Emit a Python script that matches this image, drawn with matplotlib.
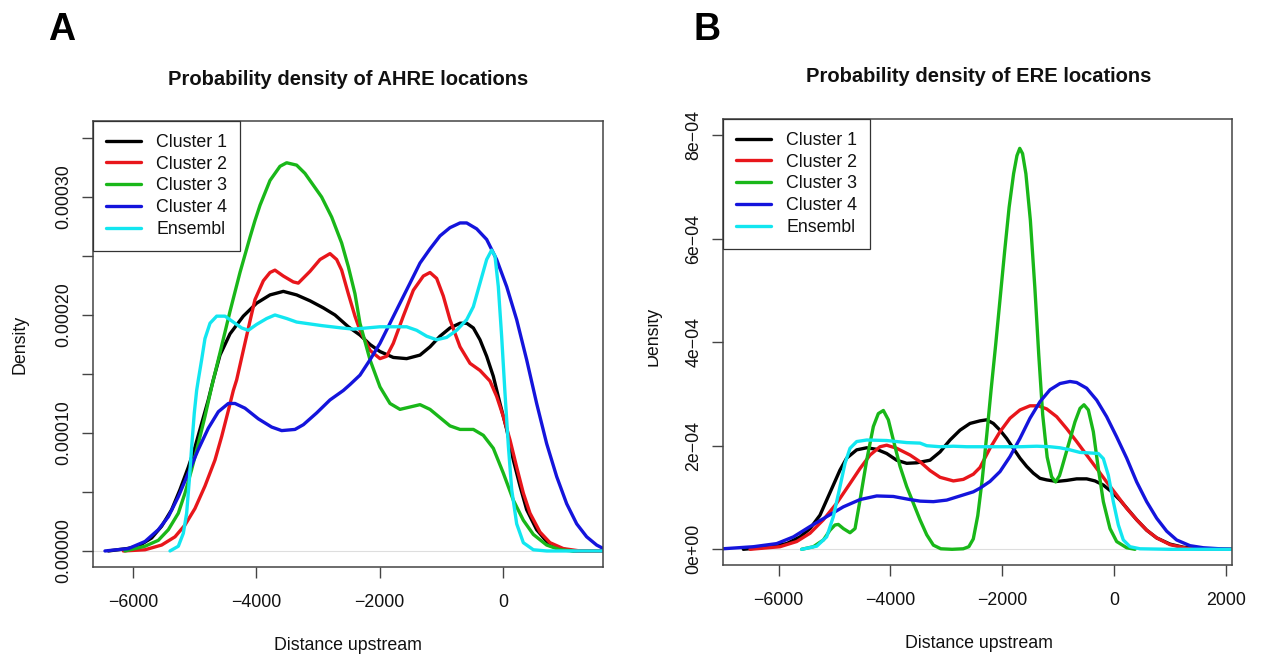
import numpy as np
import matplotlib
matplotlib.use('Agg')
import matplotlib.pyplot as plt
from matplotlib.transforms import Bbox, TransformedBbox, IdentityTransform

plt.rcParams['font.family'] = ['Liberation Sans', 'DejaVu Sans']

W, H = 1262, 656

series_labels = ['Cluster 1', 'Cluster 2', 'Cluster 3', 'Cluster 4', 'Ensembl']
series_colors = ['#000000', '#E8161B', '#19B719', '#1414DC', '#12E6F0']

# ---------------- Panel A : AHRE (density in units of 1e-4) ----------------
a_c1_x = [-6400, -6100, -5915, -5699, -5536, -5374, -5239, -5104, -4996, -4888, -4780, -4699, -4590, -4428,
          -4212, -3996, -3779, -3563, -3347, -3130, -2914, -2725, -2509, -2320, -2157, -1995, -1779, -1563,
          -1346, -1184, -1022, -860, -697, -589, -481, -373, -265, -157, -49, 60, 168, 276, 384, 546, 708,
          925, 1141, 1700]
a_c1_y = [0.00, 0.02, 0.04, 0.11, 0.21, 0.35, 0.52, 0.71, 0.88, 1.08, 1.28, 1.45, 1.66, 1.84,
          1.99, 2.10, 2.17, 2.20, 2.17, 2.12, 2.06, 2.00, 1.90, 1.83, 1.75, 1.69, 1.64, 1.63,
          1.66, 1.73, 1.82, 1.89, 1.93, 1.93, 1.89, 1.79, 1.65, 1.48, 1.25, 1.03, 0.77, 0.55, 0.35, 0.18, 0.08,
          0.02, 0.00, 0.00]

a_c2_x = [-6158, -5807, -5537, -5320, -5158, -4996, -4834, -4672, -4563, -4455, -4374, -4320, -4212, -4103,
          -4023, -3887, -3779, -3699, -3563, -3401, -3320, -3130, -2968, -2806, -2698, -2617, -2509, -2401,
          -2320, -2157, -1995, -1887, -1779, -1617, -1454, -1292, -1184, -1076, -968, -860, -697, -535, -373,
          -211, -103, 5, 114, 222, 330, 438, 600, 762, 979, 1249, 1700]
a_c2_y = [0.00, 0.01, 0.05, 0.12, 0.22, 0.36, 0.55, 0.77, 0.97, 1.19, 1.36, 1.45, 1.70, 1.95,
          2.13, 2.29, 2.36, 2.38, 2.33, 2.28, 2.27, 2.37, 2.47, 2.52, 2.47, 2.38, 2.18, 1.99,
          1.87, 1.70, 1.63, 1.65, 1.76, 1.99, 2.21, 2.33, 2.36, 2.31, 2.16, 1.96, 1.73, 1.59, 1.53,
          1.44, 1.31, 1.14, 0.94, 0.71, 0.49, 0.32, 0.16, 0.07, 0.02, 0.00, 0.00]

a_c3_x = [-6131, -5807, -5591, -5428, -5266, -5158, -5050, -4942, -4834, -4726, -4590, -4428, -4266, -4103,
          -4023, -3941, -3779, -3617, -3509, -3347, -3212, -2942, -2779, -2617, -2509, -2401, -2320, -2157,
          -1995, -1833, -1671, -1508, -1346, -1184, -1022, -860, -697, -481, -319, -157, 5, 168, 330, 492,
          708, 925, 1141]
a_c3_y = [0.00, 0.04, 0.09, 0.18, 0.32, 0.49, 0.69, 0.91, 1.14, 1.39, 1.68, 2.03, 2.36, 2.66,
          2.80, 2.93, 3.14, 3.26, 3.29, 3.27, 3.20, 3.00, 2.83, 2.61, 2.41, 2.18, 1.93, 1.62,
          1.39, 1.25, 1.20, 1.22, 1.24, 1.20, 1.13, 1.06, 1.03, 1.03, 0.98, 0.87, 0.66, 0.43, 0.26, 0.14,
          0.05, 0.01, 0.00]

a_c4_x = [-6456, -6077, -5807, -5591, -5428, -5266, -5104, -4942, -4780, -4617, -4455, -4347, -4185, -3969,
          -3752, -3590, -3374, -3238, -3022, -2806, -2590, -2482, -2320, -2157, -1995, -1833, -1671, -1508,
          -1346, -1184, -1022, -860, -697, -589, -427, -265, -103, 60, 222, 384, 546, 708, 871, 1033, 1195,
          1357, 1519, 1628]
a_c4_y = [0.00, 0.02, 0.08, 0.18, 0.29, 0.46, 0.66, 0.86, 1.04, 1.18, 1.25, 1.25, 1.21, 1.12,
          1.05, 1.02, 1.03, 1.07, 1.17, 1.28, 1.36, 1.41, 1.49, 1.62, 1.76, 1.93, 2.10, 2.27,
          2.44, 2.56, 2.67, 2.74, 2.78, 2.78, 2.73, 2.64, 2.47, 2.24, 1.96, 1.62, 1.25, 0.91, 0.63, 0.40, 0.23,
          0.12, 0.05, 0.02]

a_ens_x = [-5401, -5266, -5185, -5131, -5088, -5050, -5007, -4969, -4942, -4888, -4834, -4752, -4644, -4509,
           -4374, -4239, -4131, -3996, -3833, -3699, -3509, -3347, -3212, -2942, -2617, -2428, -2211, -1995,
           -1779, -1563, -1400, -1238, -1076, -914, -752, -589, -481, -373, -265, -184, -130, -76, -22, 32,
           87, 141, 222, 330, 492, 708, 1000, 1400, 1700]
a_ens_y = [0.00, 0.04, 0.15, 0.32, 0.60, 0.88, 1.17, 1.36, 1.45, 1.62, 1.80, 1.93, 1.99, 1.99,
           1.94, 1.89, 1.87, 1.92, 1.97, 2.00, 1.97, 1.94, 1.93, 1.91, 1.89, 1.88, 1.89, 1.90,
           1.90, 1.90, 1.87, 1.82, 1.79, 1.81, 1.87, 1.96, 2.07, 2.27, 2.47, 2.55, 2.50, 2.24, 1.82, 1.34,
           0.89, 0.52, 0.23, 0.07, 0.01, 0.00, 0.00, 0.00, 0.00]

# ---------------- Panel B : ERE (density in units of 1e-4) ----------------
b_c1_x = [-6629, -6153, -5855, -5616, -5438, -5259, -5140, -5021, -4902, -4783, -4604, -4425, -4246, -4068,
          -3889, -3710, -3531, -3293, -3114, -2936, -2757, -2579, -2400, -2281, -2162, -2043, -1924, -1805,
          -1686, -1566, -1447, -1328, -1209, -1030, -852, -673, -494, -345, -196, -47, 102, 251, 400, 578,
          757, 995, 1234, 1531, 1900, 2200]
b_c1_y = [0.00, 0.05, 0.11, 0.24, 0.40, 0.66, 0.95, 1.24, 1.53, 1.76, 1.92, 1.96, 1.93, 1.85,
          1.72, 1.66, 1.67, 1.72, 1.88, 2.11, 2.30, 2.43, 2.48, 2.50, 2.43, 2.30, 2.14, 1.95,
          1.76, 1.60, 1.47, 1.37, 1.34, 1.31, 1.33, 1.36, 1.36, 1.32, 1.24, 1.11, 0.95, 0.76, 0.57, 0.37,
          0.22, 0.10, 0.04, 0.01, 0.00, 0.00]

b_c2_x = [-6510, -5974, -5676, -5438, -5199, -4961, -4723, -4544, -4365, -4187, -4068, -3889, -3650, -3471,
          -3293, -3114, -2876, -2698, -2519, -2400, -2222, -2043, -1864, -1686, -1507, -1358, -1209, -1030,
          -852, -673, -494, -315, -137, 42, 221, 400, 578, 757, 995, 1293, 1591, 2200]
b_c2_y = [0.00, 0.05, 0.15, 0.31, 0.57, 0.89, 1.27, 1.56, 1.82, 1.98, 2.01, 1.95, 1.82, 1.69,
          1.52, 1.39, 1.32, 1.35, 1.45, 1.58, 1.95, 2.27, 2.53, 2.69, 2.77, 2.77, 2.71, 2.56,
          2.33, 2.08, 1.82, 1.56, 1.30, 1.05, 0.79, 0.57, 0.37, 0.22, 0.09, 0.02, 0.00, 0.00]

b_c3_x = [-5587, -5378, -5199, -5080, -4991, -4931, -4842, -4723, -4633, -4544, -4425, -4306, -4217, -4127,
          -4038, -3949, -3829, -3710, -3591, -3472, -3352, -3233, -3100, -2900, -2700, -2600, -2520, -2440,
          -2360, -2280, -2200, -2120, -2040, -1960, -1880, -1800, -1740, -1690, -1640, -1580, -1500, -1420,
          -1350, -1280, -1200, -1120, -1050, -980, -941, -822, -703, -613, -542, -464, -375, -286, -196,
          -77, 42, 221, 370]
b_c3_y = [0.00, 0.05, 0.18, 0.37, 0.47, 0.48, 0.40, 0.32, 0.40, 0.95, 1.72, 2.37, 2.62, 2.68,
          2.50, 2.11, 1.60, 1.21, 0.89, 0.57, 0.28, 0.08, 0.01, 0.00, 0.01, 0.05, 0.20, 0.65,
          1.35, 2.20, 3.10, 3.95, 4.85, 5.75, 6.60, 7.25, 7.60, 7.74, 7.64, 7.25, 6.35, 5.05,
          3.75, 2.60, 1.78, 1.40, 1.30, 1.42, 1.56, 2.01, 2.46, 2.72, 2.79, 2.69, 2.27, 1.56, 0.92,
          0.40, 0.15, 0.03, 0.00]

b_c4_x = [-7100, -6998, -6450, -6033, -5735, -5438, -5140, -4842, -4544, -4246, -3949, -3650, -3471, -3233,
          -2995, -2757, -2519, -2400, -2222, -2043, -1864, -1686, -1507, -1328, -1149, -971, -792, -673,
          -494, -315, -137, 42, 221, 400, 578, 757, 936, 1114, 1352, 1591, 1889, 2200]
b_c4_y = [0.00, 0.01, 0.05, 0.11, 0.24, 0.44, 0.63, 0.82, 0.96, 1.03, 1.02, 0.96, 0.93, 0.92,
          0.95, 1.03, 1.11, 1.18, 1.31, 1.50, 1.79, 2.14, 2.53, 2.85, 3.08, 3.20, 3.24, 3.22,
          3.11, 2.88, 2.56, 2.17, 1.76, 1.30, 0.92, 0.60, 0.35, 0.18, 0.07, 0.03, 0.01, 0.00]

b_ens_x = [-5587, -5318, -5140, -5021, -4902, -4812, -4723, -4604, -4425, -4068, -3710, -3471, -3352, -3114,
           -2876, -2638, -2400, -2281, -1983, -1686, -1388, -1149, -971, -792, -613, -434, -286, -196,
           -107, -18, 72, 161, 281, 459, 1000, 1500, 2200]
b_ens_y = [0.00, 0.06, 0.24, 0.63, 1.21, 1.66, 1.95, 2.08, 2.11, 2.10, 2.06, 2.05, 2.00, 1.98,
           1.99, 1.98, 1.98, 1.98, 1.98, 1.98, 1.99, 1.98, 1.96, 1.92, 1.87, 1.86, 1.85, 1.75,
           1.43, 0.92, 0.47, 0.18, 0.05, 0.01, 0.00, 0.00, 0.00]

density_unit = 1e-4

a_xticks = [-6000, -4000, -2000, 0]
a_xticklabels = ['\u22126000', '\u22124000', '\u22122000', '0']
a_yticks = [0, 0.5e-4, 1.0e-4, 1.5e-4, 2.0e-4, 2.5e-4, 3.0e-4, 3.5e-4]
a_yticklabels = ['0.00000', '', '0.00010', '', '0.00020', '', '0.00030', '']

b_xticks = [-6000, -4000, -2000, 0, 2000]
b_xticklabels = ['\u22126000', '\u22124000', '\u22122000', '0', '2000']
b_yticks = [0, 2e-4, 4e-4, 6e-4, 8e-4]
b_yticklabels = ['0e+00', '2e\u221204', '4e\u221204', '6e\u221204', '8e\u221204']

fig = plt.figure(figsize=(W / 100, H / 100), dpi=100)
fig.patch.set_facecolor('white')


def px_axes(l, t, r, b):
    return fig.add_axes([l / W, 1 - b / H, (r - l) / W, (b - t) / H])


def fx(x):
    return x / W


def fy(y):
    return 1 - y / H


FS = 12.8
FRAME = '#444444'


def draw_panel(ax, xs, ys, xlim, ylim, xticks, xtl, yticks, ytl):
    ax.axhline(0, color='#dedede', lw=0.8, zorder=1)
    for x, y, c, lab in zip(xs, ys, series_colors, series_labels):
        ax.plot(x, np.array(y) * density_unit, color=c, lw=2.4, label=lab,
                solid_capstyle='round', solid_joinstyle='round', zorder=2)
    ax.set_xlim(*xlim)
    ax.set_ylim(*ylim)
    ax.set_xticks(xticks)
    ax.set_xticklabels(xtl)
    ax.set_yticks(yticks)
    ax.set_yticklabels(ytl)
    ax.tick_params(axis='both', direction='out', length=7.6, width=1.0, color=FRAME,
                   labelsize=FS, labelcolor='#111111')
    ax.tick_params(axis='x', pad=12.0)
    ax.tick_params(axis='y', pad=7.0)
    for lab in ax.get_yticklabels():
        lab.set_rotation(90)
        lab.set_va('center')
    for s in ax.spines.values():
        s.set_color(FRAME)
        s.set_linewidth(1.1)
    leg = ax.legend(loc='upper left', bbox_to_anchor=(0, 1), borderaxespad=0,
                    frameon=True, fancybox=False, framealpha=1, edgecolor='#333333',
                    fontsize=FS, handlelength=2.0, handletextpad=0.85, borderpad=0.72,
                    labelspacing=0.27)
    leg.get_frame().set_linewidth(0.9)
    for t in leg.get_texts():
        t.set_color('#111111')


axA = px_axes(93, 121, 603, 567)
axB = px_axes(722.7, 119, 1232, 565)

draw_panel(axA, [a_c1_x, a_c2_x, a_c3_x, a_c4_x, a_ens_x],
           [a_c1_y, a_c2_y, a_c3_y, a_c4_y, a_ens_y],
           (-6650, 1622), (-1.36e-5, 3.644e-4), a_xticks, a_xticklabels, a_yticks, a_yticklabels)
draw_panel(axB, [b_c1_x, b_c2_x, b_c3_x, b_c4_x, b_ens_x],
           [b_c1_y, b_c2_y, b_c3_y, b_c4_y, b_ens_y],
           (-6998, 2103), (-3.03e-5, 8.307e-4), b_xticks, b_xticklabels, b_yticks, b_yticklabels)

# panel letters
fig.text(fx(48), fy(40), 'A', fontsize=27, fontweight='bold', ha='left', va='baseline')
fig.text(fx(694), fy(40), 'B', fontsize=27, fontweight='bold', ha='left', va='baseline')

# titles
fig.text(fx(348), fy(85), 'Probability density of AHRE locations', fontsize=14.5,
         fontweight='bold', ha='center', va='baseline', color='#111111')
fig.text(fx(979), fy(82), 'Probability density of ERE locations', fontsize=14.5,
         fontweight='bold', ha='center', va='baseline', color='#111111')

# axis labels
fig.text(fx(348), fy(650), 'Distance upstream', fontsize=FS, ha='center', va='baseline', color='#111111')
fig.text(fx(979), fy(648), 'Distance upstream', fontsize=FS, ha='center', va='baseline', color='#111111')
fig.text(fx(25), fy(344), 'Density', fontsize=FS, rotation=90, rotation_mode='anchor',
         ha='center', va='baseline', color='#111111')
tB = fig.text(fx(658), fy(336), 'Density', fontsize=FS, rotation=90, rotation_mode='anchor',
              ha='center', va='baseline', color='#111111')
tB.set_clip_on(True)
tB.set_clip_box(TransformedBbox(Bbox.from_extents(648, 0, W, H), IdentityTransform()))

fig.savefig('out.png', dpi=100, facecolor='white')
